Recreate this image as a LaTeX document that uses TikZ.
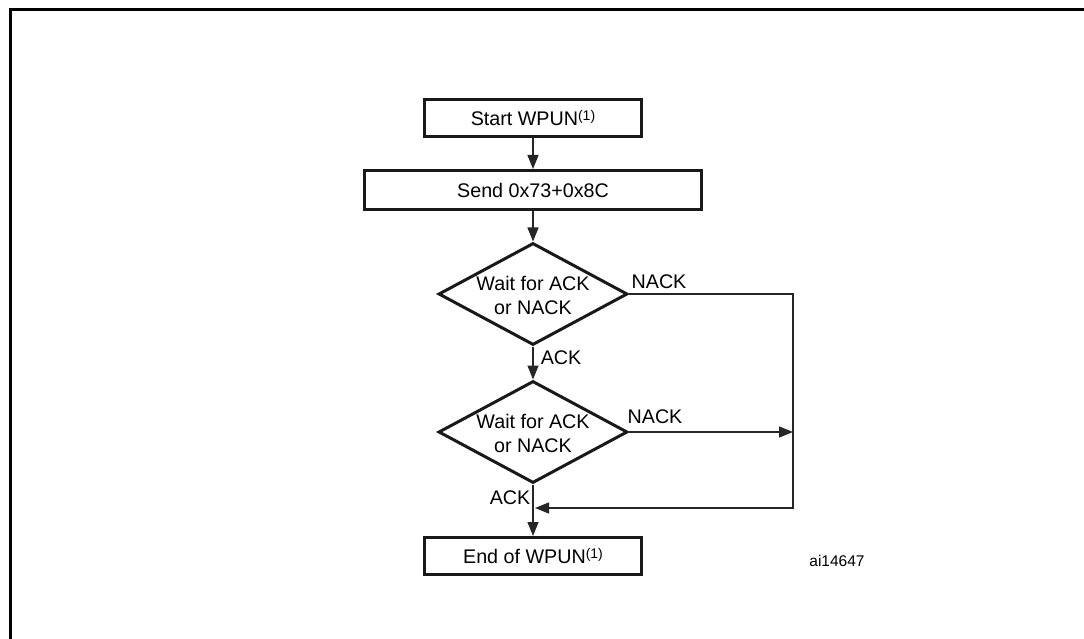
\documentclass[tikz,border=0pt]{standalone}
\usepackage{fontspec}
\setmainfont{Liberation Sans}
\usetikzlibrary{shapes.geometric,arrows.meta}
\newcommand{\supone}{{\fontsize{14pt}{14pt}\selectfont\raisebox{5pt}{(1)}}}
\begin{document}
\begin{tikzpicture}[x=1pt,y=-1pt,
  txt/.style={font=\fontsize{19.7pt}{24pt}\selectfont, inner sep=0pt, text=black},
  boxnode/.style={txt, draw=black!90, line width=3pt, minimum width=217pt, minimum height=37pt},
  decision/.style={diamond, draw=black!90, line width=3pt, minimum width=189pt, minimum height=102pt, inner sep=0pt},
  conn/.style={draw=black!85, line width=1.3pt},
  arr/.style={conn, -{Triangle[length=14pt,width=11pt]}},
  lbl/.style={txt}
]
\useasboundingbox (0,0) rectangle (1084,639);
\fill[white] (0,0) rectangle (1084,639);
% frame
\draw[line width=2.7pt] (10.5,639) -- (10.5,9.3) -- (1084,9.3);

\node[boxnode] (start) at (533,118) {Start WPUN\supone};
\node[boxnode, minimum width=337pt, minimum height=39pt] (send) at (533,190) {Send 0x73+0x8C};
\node[decision] (d1) at (533,294) {};
\node[txt, align=center] (t1) at (533,295) {Wait for ACK\\or NACK};
\node[decision] (d2) at (533,432) {};
\node[txt, align=center] (t2) at (533,433) {Wait for ACK\\or NACK};
\node[boxnode] (end) at (533,556) {End of WPUN\supone};

\coordinate (r1) at (793,294);
\coordinate (r2) at (793,508);
\coordinate (j) at (535,508);
\coordinate (r3) at (793,432);

\draw[arr] (start.south) -- (send.north);
\draw[arr] (send.south) -- (d1.north);
\draw[arr] (d1.south) -- (d2.north);
\draw[arr] (d2.south) -- (end.north);
\draw[arr] (d1.east) -- (r1) -- (r2) -- (j);
\draw[arr] (d2.east) -- (r3);

\node[lbl] (n1) at (659,282) {NACK};
\node[lbl] (n2) at (655,417) {NACK};
\node[lbl] (a1) at (561,358) {ACK};
\node[lbl] (a2) at (510,498) {ACK};
\node[txt, font=\fontsize{15.5pt}{18pt}\selectfont] (id) at (837,561) {ai14647};
\end{tikzpicture}
\end{document}
